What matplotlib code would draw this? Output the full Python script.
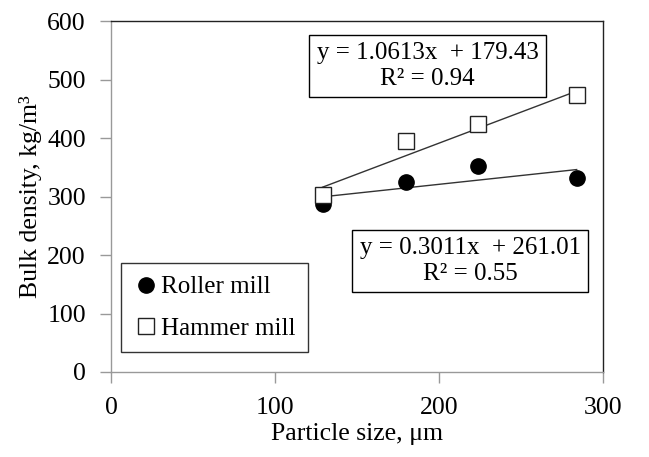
import matplotlib.pyplot as plt
import numpy as np

plt.rcParams['font.family'] = ['Liberation Serif', 'DejaVu Serif']

# Particle size (um) and bulk density (kg/m3)
roller_x = [129, 180, 224, 284]
roller_y = [288, 325, 353, 332]
hammer_x = [129, 180, 224, 284]
hammer_y = [303, 395, 424, 474]

# Linear trendlines as printed on the chart
roller_fit = (0.3011, 261.01)
hammer_fit = (1.0613, 179.43)

fig = plt.figure(figsize=(6.49, 4.57), dpi=100)
ax = fig.add_axes([0.171, 0.186, 0.758, 0.767])

ax.plot(roller_x, roller_y, 'o', color='black', markersize=11, label='Roller mill', zorder=3)
ax.plot(hammer_x, hammer_y, 's', markerfacecolor='white', markeredgecolor='#222222',
        markeredgewidth=1.0, markersize=11, label='Hammer mill', zorder=3)

for xs, (m, b) in [(roller_x, roller_fit), (hammer_x, hammer_fit)]:
    xx = np.array([min(xs), max(xs)])
    ax.plot(xx, m * xx + b, color='#333333', lw=1.0, zorder=2)

ax.set_xlim(0, 300)
ax.set_ylim(0, 600)
ax.set_xticks([0, 100, 200, 300])
ax.set_yticks(range(0, 601, 100))
ax.tick_params(direction='out', length=8, width=1, color='#999999', labelsize=18.5)
ax.tick_params(axis='x', pad=10)
ax.tick_params(axis='y', pad=10)

for s in ['left', 'bottom']:
    ax.spines[s].set_color('#999999')
for s in ['top', 'right']:
    ax.spines[s].set_color('#222222')
for s in ax.spines.values():
    s.set_linewidth(1.0)

ax.set_xlabel('Particle size, \u03bcm', fontsize=18.5, labelpad=3)
ax.set_ylabel('Bulk density, kg/m\u00b3', fontsize=18.5, labelpad=4)

box = dict(boxstyle='square,pad=0.3', facecolor='white', edgecolor='black', lw=1.0)
ax.text(193, 524, 'y = 1.0613x  + 179.43\nR\u00b2 = 0.94', ha='center', va='center',
        fontsize=18, bbox=box, linespacing=1.2, zorder=4)
ax.text(219, 190, 'y = 0.3011x  + 261.01\nR\u00b2 = 0.55', ha='center', va='center',
        fontsize=18, bbox=box, linespacing=1.2, zorder=4)

leg = ax.legend(loc='lower left', bbox_to_anchor=(0.02, 0.057), fontsize=18, frameon=True,
                fancybox=False, edgecolor='black', handletextpad=0.1, handlelength=1.0,
                borderpad=0.5, labelspacing=0.75, borderaxespad=0)
leg.get_frame().set_linewidth(1.0)

fig.savefig('out.png', dpi=100)
